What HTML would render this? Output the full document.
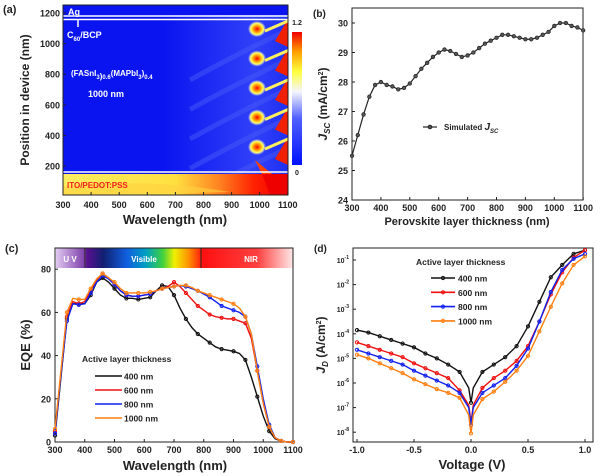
<!DOCTYPE html>
<html><head><meta charset="utf-8"><style>
body{margin:0;background:#fff}
svg{display:block;font-family:"Liberation Sans",Arial,sans-serif;font-weight:bold}
</style></head><body>
<svg id="s" width="600" height="476" viewBox="0 0 600 476" xmlns="http://www.w3.org/2000/svg">
<defs>
<linearGradient id="cb" x1="0" y1="1" x2="0" y2="0">
<stop offset="0" stop-color="#0010ff"/><stop offset="0.35" stop-color="#5060ff"/><stop offset="0.55" stop-color="#f4f4ff"/><stop offset="0.7" stop-color="#ffff40"/><stop offset="0.85" stop-color="#ffa000"/><stop offset="1" stop-color="#f00000"/>
</linearGradient>
<linearGradient id="spec" x1="0" y1="0" x2="1" y2="0">
<stop offset="0" stop-color="#e0c8f0"/><stop offset="0.125" stop-color="#7a3aa8"/>
<stop offset="0.13" stop-color="#5a1090"/><stop offset="0.2" stop-color="#102070"/><stop offset="0.3" stop-color="#1060e0"/><stop offset="0.38" stop-color="#00a0c0"/><stop offset="0.45" stop-color="#40d040"/><stop offset="0.5" stop-color="#f0f000"/><stop offset="0.56" stop-color="#ff9000"/><stop offset="0.62" stop-color="#ff1010"/><stop offset="0.85" stop-color="#ff4040"/><stop offset="1" stop-color="#ffe8e8"/>
</linearGradient>
<linearGradient id="ito" x1="0" y1="0" x2="1" y2="0">
<stop offset="0" stop-color="#ffee60"/><stop offset="0.5" stop-color="#ffe040"/><stop offset="0.7" stop-color="#ff8020"/><stop offset="0.85" stop-color="#ff2000"/><stop offset="1" stop-color="#ee0000"/>
</linearGradient>
<linearGradient id="bg" x1="0" y1="0" x2="1" y2="0">
<stop offset="0" stop-color="#0a14f0"/><stop offset="0.45" stop-color="#0a14f0"/><stop offset="0.85" stop-color="#3040f8"/><stop offset="1" stop-color="#2030f4"/>
</linearGradient>
<radialGradient id="blob"><stop offset="0" stop-color="#f00"/><stop offset="0.4" stop-color="#ffa000"/><stop offset="0.7" stop-color="#ffff60"/><stop offset="1" stop-color="#ffffff" stop-opacity="0"/></radialGradient>
<clipPath id="ca"><rect x="63" y="5" width="225" height="190"/></clipPath>
</defs>
<g id="g"></g>
</svg>
<script>
const g=document.getElementById('g');let h='';
function T(x,y,t,o={}){h+=`<text x="${x}" y="${y}" font-size="${o.s||10}" fill="${o.f||'#222'}" text-anchor="${o.a||'middle'}" ${o.r?`transform="rotate(-90 ${x} ${y})"`:''} ${o.n?'font-weight="normal"':''}>${t}</text>`;}
function L(x1,y1,x2,y2,c='#222',w=1){h+=`<line x1="${x1}" y1="${y1}" x2="${x2}" y2="${y2}" stroke="${c}" stroke-width="${w}"/>`;}
// ---- panel a
h+=`<g clip-path="url(#ca)"><rect x="63" y="5" width="225" height="190" fill="url(#bg)"/>`;
for(let i=0;i<6;i++){let y=30+i*29.5;h+=`<path d="M190 ${y+50} Q235 ${y+25} 288 ${y}" stroke="#4858f8" stroke-width="5" fill="none" opacity="0.5"/>`;}
for(let i=0;i<5;i++){let y=29+i*29.5;h+=`<ellipse cx="257" cy="${y}" rx="9" ry="8" fill="url(#blob)"/><path d="M275 ${y+12} L288 ${y-10} L288 ${y+18} Z" fill="#f02000"/><path d="M265 ${y+2} L288 ${y-8}" stroke="#fff060" stroke-width="3"/>`;}
h+=`<rect x="63" y="174" width="225" height="21" fill="url(#ito)"/><path d="M63 186 Q150 178 230 192 L63 195Z" fill="#ffd040" opacity=".6"/><path d="M262 174 L288 174 L288 195 L270 195 Z" fill="#ee0000"/><path d="M255 160 L262 174 L272 174 Z" fill="#ff4000"/>`;
h+=`<rect x="63" y="5" width="225" height="10" fill="#0a14f0"/></g>`;
L(63,16,288,16,'#fff',1.5);L(63,19.5,288,19.5,'#fff',1.5);L(63,172,288,172,'#fff',1.5);
h+=`<rect x="63" y="5" width="225" height="190" fill="none" stroke="#222"/>`;
T(68,15,'Ag',{f:'#fff',s:9,a:'start'});
L(78,20,78,27,'#fff',1.5);
T(67,38,'C<tspan font-size="6" dy="3">60</tspan><tspan dy="-3">/BCP</tspan>',{f:'#fff',s:9,a:'start'});
T(71,76,'(FASnI<tspan font-size="6" dy="3">3</tspan><tspan dy="0">)</tspan><tspan font-size="6" dy="0">0.6</tspan><tspan dy="-3">(MAPbI</tspan><tspan font-size="6" dy="3">3</tspan><tspan dy="-3">)</tspan><tspan font-size="6" dy="3">0.4</tspan>',{f:'#fff',s:8,a:'start'});
T(88,97,'1000 nm',{f:'#fff',s:9,a:'start'});
T(67,188,'ITO/PEDOT:PSS',{f:'#f02020',s:8,a:'start'});
h+=`<rect x="292" y="32" width="10" height="133" fill="url(#cb)"/>`;
T(297,25,'1.2',{s:7});T(297,175,'0',{s:7});
for(let v=200;v<=1200;v+=200){let y=196.6-v*0.153;L(63,y,66,y);T(60,y+3.5,v,{s:9,a:'end'});}
for(let v=300;v<=1100;v+=100){let x=63+(v-300)*0.281;L(x,195,x,192);T(x,208,v,{s:9});}
T(29,100,'Position in device (nm)',{s:12,r:1});T(175,224,'Wavelength (nm)',{s:13});
T(3,13,'(a)',{s:11,a:'start'});
// ---- panel b
const bx=v=>352+(v-300)*0.289, by=v=>200-(v-24)*29.5;
h+=`<rect x="352" y="8" width="231" height="192" fill="none" stroke="#222"/>`;
for(let v=24;v<=30;v++){L(352,by(v),355,by(v));T(348,by(v)+3.5,v,{s:9,a:'end'});}
for(let v=300;v<=1100;v+=100){L(bx(v),200,bx(v),197);T(bx(v),211,v,{s:9});}
const bd=[25.5,26.2,26.9,27.5,27.9,28.0,27.9,27.85,27.75,27.8,27.95,28.2,28.45,28.65,28.85,29.0,29.1,29.05,28.95,28.85,28.9,29.0,29.15,29.3,29.4,29.5,29.6,29.6,29.55,29.5,29.45,29.45,29.5,29.6,29.7,29.9,30.0,30.0,29.9,29.85,29.75];
h+=`<polyline fill="none" stroke="#222" stroke-width="1.2" points="${bd.map((v,i)=>bx(300+20*i)+','+by(v)).join(' ')}"/>`;
bd.forEach((v,i)=>h+=`<circle cx="${bx(300+20*i)}" cy="${by(v)}" r="1.8" fill="#555" stroke="#222" stroke-width=".7"/>`);
L(423,127,437,127,'#222',1.2);h+=`<circle cx="430" cy="127" r="1.8" fill="#555" stroke="#222"/>`;
T(444,130,'Simulated <tspan font-style="italic" font-size="10">J</tspan><tspan font-size="6" dy="3" font-style="italic">SC</tspan>',{s:8,a:'start'});
T(327,104,'<tspan font-style="italic">J</tspan><tspan font-size="8" dy="3" font-style="italic">SC</tspan><tspan dy="-3"> (mA/cm</tspan><tspan font-size="7" dy="-4">2</tspan><tspan dy="4">)</tspan>',{s:12,r:1});
T(467,225,'Perovskite layer thickness (nm)',{s:11});
T(313,17,'(b)',{s:10,a:'start'});
// ---- panel c
const cx=v=>55+(v-300)*0.2975, cy=v=>442-v*2.16;
h+=`<rect x="56" y="248" width="237" height="20" fill="url(#spec)"/>`;L(85,248,85,268,'#222');L(201,248,201,268,'#222');
T(70,262,'U V',{f:'#fff',s:8});T(144,262,'Visible',{f:'#fff',s:8});T(251,262,'NIR',{f:'#fff',s:8});
h+=`<rect x="55" y="248" width="238" height="194" fill="none" stroke="#222"/>`;
for(let v=0;v<=80;v+=20){L(55,cy(v),58,cy(v));T(51,cy(v)+3.5,v,{s:9,a:'end'});}
for(let v=300;v<=1100;v+=100){L(cx(v),442,cx(v),439);T(cx(v),453,v,{s:9});}
const C={
'#111':[3,30,57,64,64,64,68,74,76,74,71,68,66.5,66.5,66,66.5,67,70,72.5,72,68,62,57,53,50,48,46,44,43,42.5,42,41,38,30,21,12,5,1.5,.5,0,0],
'#f01010':[5,32,58,65,64,65,70,75,78,76,73,70,68,67.5,67.5,68,68.5,70,71,72,74,72,69,66,63,61,59,58,57.5,57,57,56,55,48,33,18,7,2,.5,0,0],
'#1020f0':[4,31,56,64,63.5,64,69,74,77,75.5,73,70,68,67.5,67.5,68,68.5,70,71,71.5,72,72.5,72,71,70,68.5,67,65,63,62,61,60,58,50,35,20,8,2,.5,0,0],
'#ff7f10':[6,33,60,66.5,66,66,71,75.5,78,76,74,71,69,69,69,69,69.5,70,71,71.5,72,72.5,72.5,71.5,70,69,68,67,66,65,64,62,58,50,33,18,7,2,.5,0,0]};
for(const c in C){h+=`<polyline fill="none" stroke="${c}" stroke-width="1.4" points="${C[c].map((v,i)=>cx(300+20*i)+','+cy(v)).join(' ')}"/>`;
C[c].forEach((v,i)=>{if(i%2==0)h+=`<circle cx="${cx(300+20*i)}" cy="${cy(v)}" r="1.6" fill="none" stroke="${c}"/>`});}
T(82,362,'Active layer thickness',{s:8.5,a:'start'});
['400 nm','600 nm','800 nm','1000 nm'].forEach((t,i)=>{let y=376+i*14,c=Object.keys(C)[i];L(95,y,122,y,c,1.6);T(124,y+3.5,t,{s:8.5,a:'start'});});
T(30,345,'EQE (%)',{s:13,r:1});T(175,470,'Wavelength (nm)',{s:13});
T(5,252,'(c)',{s:11,a:'start'});
// ---- panel d
const dx=v=>471+v*114, dy=v=>260-(v+1)*24.6;
h+=`<rect x="353" y="248" width="240" height="194" fill="none" stroke="#222"/>`;
for(let e=-8;e<=-1;e++){L(353,dy(e),356,dy(e));T(349,dy(e)+3,'10<tspan font-size="5" dy="-4">'+e+'</tspan>',{s:7,a:'end',n:0});}
[-1,-.5,0,.5,1].forEach(v=>{L(dx(v),442,dx(v),439);T(dx(v),453,v.toFixed(1),{s:9});});
const V=[-1,-.9,-.8,-.7,-.6,-.5,-.4,-.3,-.2,-.1,-.02,0,.02,.1,.2,.3,.4,.5,.6,.7,.8,.9,1];
const D={
'#111':[-3.85,-3.95,-4.1,-4.25,-4.4,-4.55,-4.8,-5,-5.25,-5.55,-6.2,-6.8,-6.2,-5.55,-5.25,-4.95,-4.5,-3.7,-2.7,-1.7,-1.2,-.75,-.6],
'#f01010':[-4.35,-4.5,-4.65,-4.8,-4.95,-5.2,-5.4,-5.6,-5.8,-6.3,-6.9,-7.6,-6.9,-6.2,-5.8,-5.5,-5.1,-4.5,-3.5,-2.4,-1.5,-.9,-.6],
'#1020f0':[-4.65,-4.8,-4.95,-5.1,-5.25,-5.5,-5.7,-5.9,-6.1,-6.4,-7,-7.7,-7,-6.4,-6.1,-5.8,-5.3,-4.6,-3.5,-2.3,-1.4,-.95,-.75],
'#ff7f10':[-4.85,-5,-5.2,-5.4,-5.6,-5.85,-6.05,-6.25,-6.4,-6.6,-7.3,-8.05,-7.3,-6.65,-6.35,-5.95,-5.5,-4.9,-3.9,-2.9,-1.95,-1.2,-.85]};
for(const c in D){h+=`<polyline fill="none" stroke="${c}" stroke-width="1.4" points="${D[c].map((v,i)=>dx(V[i])+','+dy(v)).join(' ')}"/>`;
D[c].forEach((v,i)=>{if(i!=10&&i!=12)h+=`<circle cx="${dx(V[i])}" cy="${dy(v)}" r="1.6" fill="none" stroke="${c}"/>`});}
T(416,265,'Active layer thickness',{s:8.5,a:'start'});
['400 nm','600 nm','800 nm','1000 nm'].forEach((t,i)=>{let y=278+i*14.3,c=Object.keys(D)[i];L(431,y,455,y,c,1.6);h+=`<circle cx="443" cy="${y}" r="1.6" fill="none" stroke="${c}"/>`;T(458,y+3.5,t,{s:8.5,a:'start'});});
T(325,345,'<tspan font-style="italic">J</tspan><tspan font-size="8" dy="3" font-style="italic">D</tspan><tspan dy="-3"> (A/cm</tspan><tspan font-size="7" dy="-4">2</tspan><tspan dy="4">)</tspan>',{s:12,r:1});
T(472,469,'Voltage (V)',{s:13});
T(314,252,'(d)',{s:10,a:'start'});
g.innerHTML=h;
</script>
</body></html>
